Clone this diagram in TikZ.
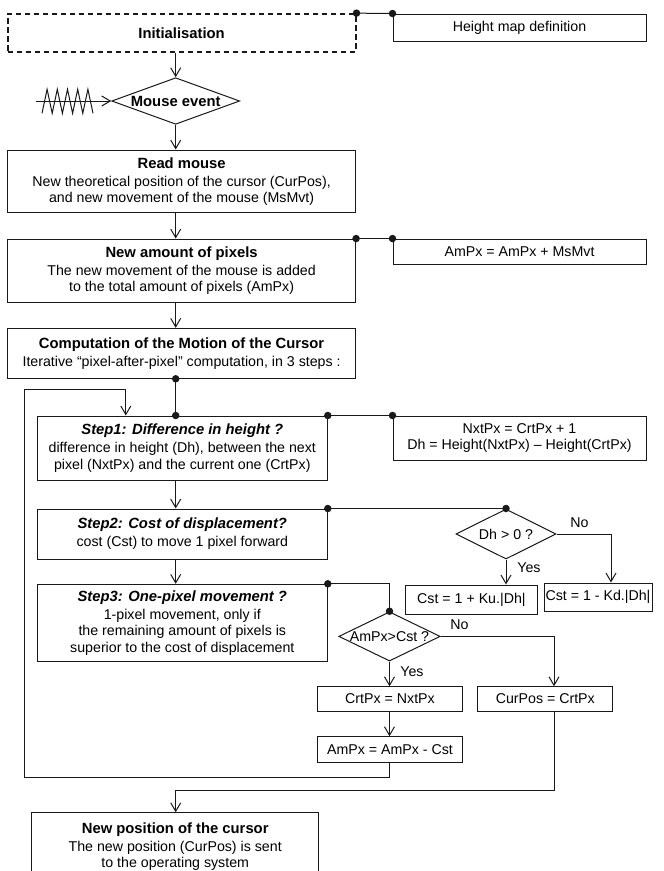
\documentclass[tikz,border=0pt]{standalone}
\usepackage{fontspec}
\setmainfont{Liberation Sans}
\usetikzlibrary{shapes.geometric,arrows.meta}
\definecolor{ln}{RGB}{25,25,25}
\newcommand\tbx[1]{{\fontsize{14.8}{16.2}\selectfont\bfseries #1}}
\newcommand\tbi[1]{{\fontsize{14.8}{16.2}\selectfont\bfseries\itshape #1}}
\begin{document}
\begin{tikzpicture}[x=1pt,y=-1pt,
  every node/.style={font=\fontsize{14.2}{16.2}\selectfont, text=black},
  box/.style={draw=ln, line width=1pt, rectangle, inner sep=0pt, align=center},
  dbox/.style={box, line width=1.8pt, dash pattern=on 5.5pt off 3.5pt},
  dia/.style={draw=ln, line width=1pt, diamond, inner sep=0pt},
  conn/.style={draw=ln, line width=1pt},
  arr/.style={conn, -{Straight Barb[length=8.5pt,width=10pt]}},
  dot/.style={circle, fill=ln, inner sep=0pt, minimum size=7.5pt},
  lbl/.style={inner sep=0pt, align=center}]
\useasboundingbox (0,0) rectangle (664,871);

% left column boxes
\node[dbox, minimum width=348, minimum height=37.7] (init) at (181.6,32.9) {\tbx{Initialisation}};
\node[box, minimum width=253, minimum height=27] (hmap) at (519.5,27.5) {Height map definition};
\node[dia, minimum width=128, minimum height=46.6] (mouse) at (175.7,101) {};
\node[lbl] (mouseT) at (175.7,101) {\tbx{Mouse event}};
\node[box, minimum width=348, minimum height=62.7] (read) at (181.6,181.4)
  {\tbx{Read mouse}\\[2pt]New theoretical position of the cursor (CurPos),\\and new movement of the mouse (MsMvt)};
\node[box, minimum width=348, minimum height=63.7] (amount) at (181.6,270.9)
  {\tbx{New amount of pixels}\\[2pt]The new movement of the mouse is added\\to the total amount of pixels (AmPx)};
\node[box, minimum width=253, minimum height=25.3] (ampx1) at (519.5,251.7) {AmPx = AmPx + MsMvt};
\node[box, minimum width=348, minimum height=50] (comp) at (181.6,353.3)
  {\tbx{Computation of the Motion of the Cursor}\\[2pt]Iterative “pixel-after-pixel” computation, in 3 steps :};
\node[box, minimum width=290, minimum height=64] (step1) at (182.3,448)
  {\tbi{Step1: Difference in height ?}\\[2pt]difference in height (Dh), between the next\\pixel (NxtPx) and the current one (CrtPx)};
\node[box, minimum width=253, minimum height=44] (nxt) at (519.5,438)
  {NxtPx = CrtPx + 1\\Dh = Height(NxtPx) – Height(CrtPx)};
\node[box, minimum width=290, minimum height=50] (step2) at (182.3,534)
  {\tbi{Step2: Cost of displacement?}\\[2pt]cost (Cst) to move 1 pixel forward};
\node[dia, minimum width=100, minimum height=50] (dh) at (506,534) {};
\node[lbl] (dhT) at (506,534) {Dh > 0 ?};
\node[box, minimum width=131.3, minimum height=29] (ku) at (471.4,599.5) {Cst = 1 + Ku.|Dh|};
\node[box, minimum width=108, minimum height=28] (kd) at (598,597) {Cst = 1 - Kd.|Dh|};
\node[box, minimum width=290, minimum height=77.4] (step3) at (182.3,623)
  {\tbi{Step3: One-pixel movement ?}\\[2pt]1-pixel movement, only if\\the remaining amount of pixels is\\superior to the cost of displacement};
\node[dia, minimum width=101.4, minimum height=49.3] (am) at (389.5,636.4) {};
\node[lbl] (amT) at (389.5,636.4) {AmPx>Cst ?};
\node[box, minimum width=144.8, minimum height=24.3] (crt) at (390,698.9) {CrtPx = NxtPx};
\node[box, minimum width=135.1, minimum height=24.3] (cur) at (545.3,698.9) {CurPos = CrtPx};
\node[box, minimum width=144.8, minimum height=25.6] (amc) at (390,749.5) {AmPx = AmPx - Cst};
\node[box, minimum width=286.7, minimum height=67.3] (newpos) at (175.2,846.4)
  {\tbx{New position of the cursor}\\[2pt]The new position (CurPos) is sent\\to the operating system};

% labels
\node[lbl] (no1) at (579.5,523) {No};
\node[lbl] (yes1) at (529,568) {Yes};
\node[lbl] (no2) at (459.5,625) {No};
\node[lbl] (yes2) at (412,672) {Yes};

% helper coordinates
\coordinate (zz) at (36,101);
\coordinate (noA) at (611,534);
\coordinate (noB) at (554,636.4);
\coordinate (retR) at (554,790.7);
\coordinate (retL) at (175.7,790.7);
\coordinate (loopA) at (24.6,777);
\coordinate (loopB) at (24.6,389);
\coordinate (loopC) at (125.8,389);

% zigzag event
\draw[arr] (zz) -- (mouse.west);
\draw[conn] (42,113.3) \foreach \i in {1,...,5} { -- ++(5.1,-24) -- ++(5.1,24) };

% main flow
\draw[arr] (mouse.north |- init.south) -- (mouse.north);
\draw[arr] (mouse.south) -- (mouse.south |- read.north);
\draw[arr] (mouse.south |- read.south) -- (mouse.south |- amount.north);
\draw[arr] (mouse.south |- amount.south) -- (mouse.south |- comp.north);
\draw[conn] (mouse.south |- comp.south) -- (mouse.south |- step1.north);
\draw[arr] (mouse.south |- step1.south) -- (mouse.south |- step2.north);
\draw[arr] (mouse.south |- step2.south) -- (mouse.south |- step3.north);

% side links
\draw[conn] (init.north east) -- (hmap.north west);
\draw[conn] (amount.north east) -- (ampx1.north west);
\draw[conn] (step1.north east) -- (nxt.north west);
\draw[conn] (step2.north east) -- (dh.north);
\draw[conn] (step3.north east) -| (am.north);

% Dh decision
\draw[arr] (dh.south) -- (dh.south |- ku.north);
\draw[arr] (dh.east) -- (noA) -- (noA |- kd.north);

% AmPx decision
\draw[arr] (am.south) -- (am.south |- crt.north);
\draw[arr] (am.east) -- (noB) -- (noB |- cur.north);
\draw[arr] (am.south |- crt.south) -- (am.south |- amc.north);

% loop back
\draw[arr] (am.south |- amc.south) |- (loopA) -- (loopB) -- (loopC) -- (loopC |- step1.north);

% exit
\draw[arr] (retR |- cur.south) -- (retR) -- (retL) -- (retL |- newpos.north);

% dots
\foreach \p in {init.north east, hmap.north west, amount.north east, ampx1.north west,
  step1.north east, nxt.north west, step2.north east, dh.north, step3.north east, am.north}
  \node[dot] at (\p) {};
\node[dot] at (mouse.south |- comp.south) {};
\node[dot] at (mouse.south |- step1.north) {};
\end{tikzpicture}
\end{document}
